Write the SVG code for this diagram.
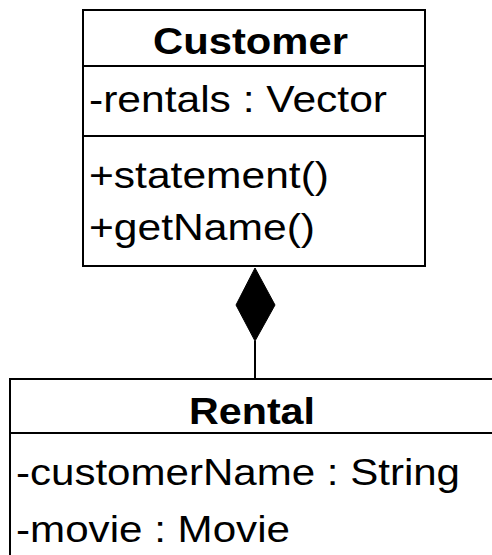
<svg xmlns="http://www.w3.org/2000/svg" width="492" height="555" viewBox="0 0 492 555">
<style>
.box{fill:#fff;stroke:#000;stroke-width:2}
.sep{stroke:#000;stroke-width:2}
.t{font-family:"Liberation Sans",Arial,sans-serif;font-size:37px;fill:#000}
.b{font-weight:bold}
.conn{stroke:#000;stroke-width:2;fill:none}
</style>
<rect width="492" height="555" fill="#fff"/>
<g id="customer">
<rect class="box" x="83" y="10" width="342" height="256"/>
<line class="sep" x1="83" y1="66" x2="425" y2="66"/>
<line class="sep" x1="83" y1="136" x2="425" y2="136"/>
<text class="t b" x="153" y="54" textLength="195" lengthAdjust="spacingAndGlyphs">Customer</text>
<text class="t" x="89" y="112" textLength="298" lengthAdjust="spacingAndGlyphs">-rentals : Vector</text>
<text class="t" x="89" y="188" textLength="240" lengthAdjust="spacingAndGlyphs">+statement()</text>
<text class="t" x="89" y="240" textLength="226" lengthAdjust="spacingAndGlyphs">+getName()</text>
</g>
<g id="rental">
<rect class="box" x="10" y="379" width="500" height="200"/>
<line class="sep" x1="10" y1="433" x2="492" y2="433"/>
<text class="t b" x="189" y="424" textLength="126" lengthAdjust="spacingAndGlyphs">Rental</text>
<text class="t" x="16" y="485" textLength="444" lengthAdjust="spacingAndGlyphs">-customerName : String</text>
<text class="t" x="16" y="542" textLength="274" lengthAdjust="spacingAndGlyphs">-movie : Movie</text>
</g>
<g id="connectors">
<line class="conn" x1="255" y1="341" x2="255" y2="379"/>
<polygon points="255,268 275,305 255,341 236,305" fill="#000" stroke="#000" stroke-width="1"/>
</g>
</svg>
